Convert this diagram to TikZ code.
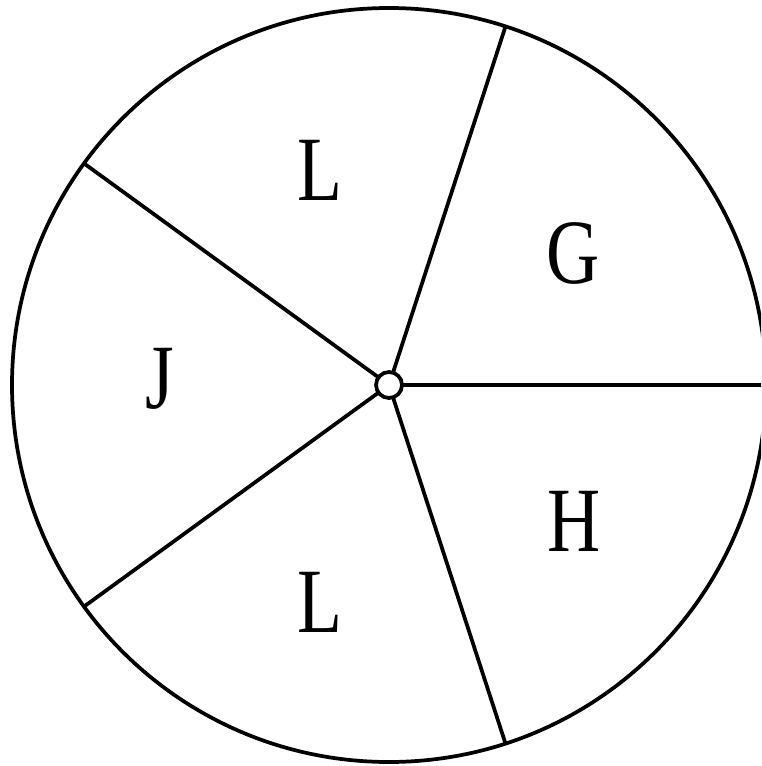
\documentclass[tikz,border=0pt]{standalone}
\usepackage{fontspec}
\setmainfont{Liberation Serif}
\usetikzlibrary{calc}
\newcommand{\narrow}[1]{\scalebox{0.8}[1]{#1}}
\begin{document}
\begin{tikzpicture}[x=0.75pt,y=-0.75pt,
  ln/.style={line width=2.8pt,black},
  lbl/.style={anchor=base,inner sep=0pt,font=\fontsize{69}{80}\selectfont}]
\useasboundingbox (0,0) rectangle (761,766);
\clip (0,0) rectangle (761,766);
\coordinate (c) at (389,385);
\draw[ln] (c) circle[radius=377*0.75pt];
\foreach \a/\n in {0/p0,72/p1,144/p2,216/p3,288/p4}{
  \coordinate (\n) at ($(c)+(\a:377*0.75pt)$);
}
\foreach \n in {p0,p1,p2,p3,p4}{ \draw[ln] (c) -- (\n); }
\node[circle,draw,line width=2.8pt,fill=white,minimum size=26*0.75pt,inner sep=0pt] (hub) at (c) {};
\node[lbl] (l1) at (320,201) {\narrow{L}};
\node[lbl] (g) at (573,283) {\narrow{G}};
\node[lbl] (j) at (160,408) {\narrow{J}};
\node[lbl] (h) at (574,551) {\narrow{H}};
\node[lbl] (l2) at (320,632) {\narrow{L}};
\end{tikzpicture}
\end{document}
